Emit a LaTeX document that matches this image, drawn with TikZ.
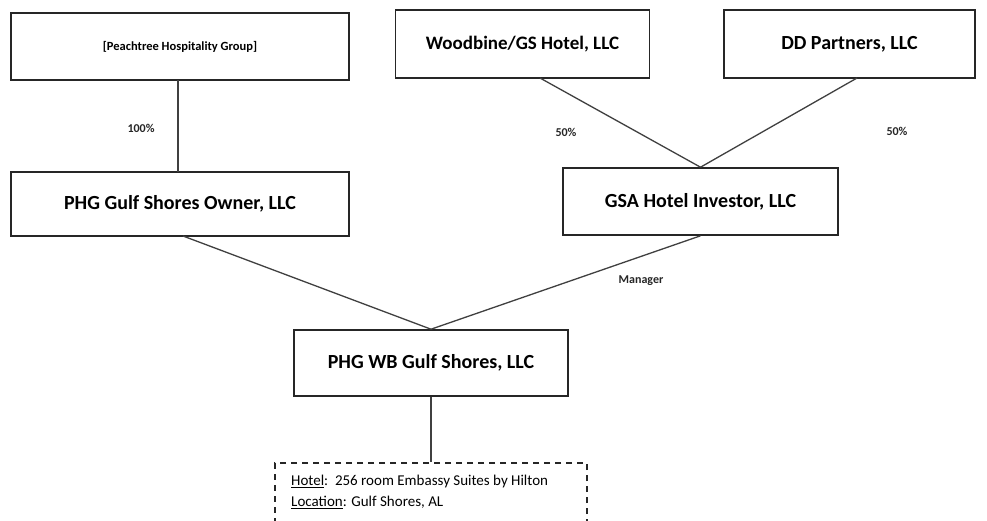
\documentclass[tikz,border=0pt]{standalone}
\usepackage{fontspec}
\setmainfont{Carlito}
\begin{document}
\begin{tikzpicture}[x=1pt,y=-1pt,
  ent/.style={draw=black!85,line width=1.6pt,fill=white,inner sep=0pt,font=\bfseries\fontsize{20}{24}\selectfont},
  conn/.style={draw=black!75,line width=1.3pt},
  lbl/.style={font=\bfseries\fontsize{12}{14}\selectfont,text=black!85}]
\useasboundingbox (0,0) rectangle (987,520);
\fill[white] (0,0) rectangle (987,520);
\node[ent,minimum width=338pt,minimum height=67pt] (pt) at (180,46.5) {\fontsize{12.5}{14}\selectfont [Peachtree Hospitality Group]};
\node[ent,minimum width=254pt,minimum height=68pt] (wb) at (522.5,44) {\fontsize{19}{22}\selectfont Woodbine/GS Hotel, LLC};
\node[ent,minimum width=251pt,minimum height=68pt] (dd) at (849.5,44) {DD Partners, LLC};
\node[ent,minimum width=338pt,minimum height=64pt] (own) at (180,204) {PHG Gulf Shores Owner, LLC};
\node[ent,minimum width=275pt,minimum height=67pt] (gsa) at (700.5,201.5) {GSA Hotel Investor, LLC};
\node[ent,minimum width=274pt,minimum height=66pt] (wbg) at (431,363) {PHG WB Gulf Shores, LLC};
\node[draw=black!85,line width=1.6pt,dash pattern=on 6pt off 5pt,minimum width=312pt,minimum height=80pt] (hot) at (431,503) {};
\node[anchor=west,align=left,font=\fontsize{15}{21}\selectfont,inner sep=0pt] (ht) at (291,492) {\underline{Hotel}:\ \ 256 room Embassy Suites by Hilton\\ \underline{Location}: Gulf Shores, AL};
\coordinate (wbs) at (540,78);
\coordinate (dds) at (857,78);
\coordinate (ownb) at (183,236);
\draw[conn] (178,80) -- (178,172);
\draw[conn] (wbs) -- (gsa.north);
\draw[conn] (dds) -- (gsa.north);
\draw[conn] (ownb) -- (wbg.north);
\draw[conn] (gsa.south) -- (wbg.north);
\draw[conn,line width=2.2pt] (wbg.south) -- (hot.north);
\node[lbl] (l1) at (141,128) {100\%};
\node[lbl] (l2) at (566,132) {50\%};
\node[lbl] (l3) at (897,131) {50\%};
\node[lbl] (l4) at (641,281) {Manager};
\end{tikzpicture}
\end{document}
